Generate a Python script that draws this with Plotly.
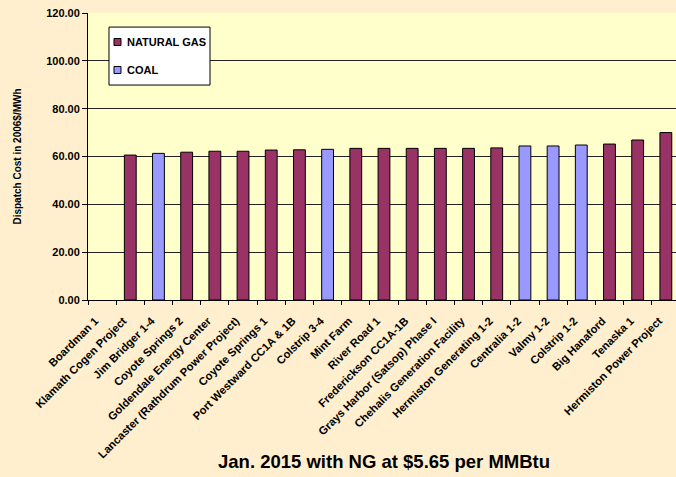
import plotly.graph_objects as go

plants = [
    "Boardman 1", "Klamath Cogen Project", "Jim Bridger 1-4", "Coyote Springs 2",
    "Goldendale Energy Center", "Lancaster (Rathdrum Power Project)", "Coyote Springs 1",
    "Port Westward CC1A & 1B", "Colstrip 3-4", "Mint Farm", "River Road 1",
    "Frederickson CC1A-1B", "Grays Harbor (Satsop) Phase I", "Chehalis Generation Facility",
    "Hermiston Generating 1-2", "Centralia 1-2", "Valmy 1-2", "Colstrip 1-2",
    "Big Hanaford", "Tenaska 1", "Hermiston Power Project",
]
fuel = [
    "COAL", "NATURAL GAS", "COAL", "NATURAL GAS",
    "NATURAL GAS", "NATURAL GAS", "NATURAL GAS",
    "NATURAL GAS", "COAL", "NATURAL GAS", "NATURAL GAS",
    "NATURAL GAS", "NATURAL GAS", "NATURAL GAS",
    "NATURAL GAS", "COAL", "COAL", "COAL",
    "NATURAL GAS", "NATURAL GAS", "NATURAL GAS",
]
dispatch_cost = [
    None, 60.6, 61.3, 61.8,
    62.2, 62.2, 62.7,
    62.8, 63.0, 63.4, 63.4,
    63.4, 63.4, 63.4,
    63.6, 64.4, 64.4, 64.8,
    65.2, 66.9, 70.0,
]
fuel_types = ["NATURAL GAS", "COAL"]
y_ticks = [0, 20, 40, 60, 80, 100, 120]
y_tick_text = ["0.00", "20.00", "40.00", "60.00", "80.00", "100.00", "120.00"]

colors = {"NATURAL GAS": "#993366", "COAL": "#9999FF"}
FONT = "Liberation Sans, Arial, sans-serif"

fig = go.Figure()
for f in fuel_types:
    ys = [v if ft == f else None for v, ft in zip(dispatch_cost, fuel)]
    fig.add_trace(go.Bar(
        x=plants, y=ys, name=f, showlegend=False,
        marker=dict(color=colors[f], line=dict(color="#000000", width=1)),
        width=0.42,
    ))

# Legend box drawn in paper coordinates
shapes = [dict(type="rect", xref="paper", yref="paper",
               x0=0.0357, x1=0.2075, y0=0.749, y1=0.951,
               fillcolor="#FFFFFF", line=dict(color="#000000", width=1), layer="above")]
annotations = []
legend_rows = [(0.899, "NATURAL GAS"), (0.8014, "COAL")]
for yc, f in legend_rows:
    shapes.append(dict(type="rect", xref="paper", yref="paper",
                       x0=0.0442, x1=0.0561, y0=yc - 0.0122, y1=yc + 0.0122,
                       fillcolor=colors[f], line=dict(color="#000000", width=1), layer="above"))
    annotations.append(dict(xref="paper", yref="paper", x=0.0629, y=yc,
                            xanchor="left", yanchor="middle", showarrow=False, text=f,
                            font=dict(family=FONT, size=11, color="#000000", weight="bold")))

annotations.append(dict(xref="paper", yref="paper", x=0.503, y=-0.564,
                        xanchor="center", yanchor="middle", showarrow=False,
                        text="Jan. 2015 with NG at $5.65 per MMBtu",
                        font=dict(family=FONT, size=18.5, color="#000000", weight="bold")))

fig.update_layout(
    width=676, height=477,
    margin=dict(l=88, r=0, t=13, b=177, autoexpand=False),
    paper_bgcolor="#FFEFCE",
    plot_bgcolor="#FFFFCC",
    barmode="overlay",
    font=dict(family=FONT, color="#000000"),
    showlegend=False,
    shapes=shapes,
    annotations=annotations,
    xaxis=dict(
        type="category", categoryorder="array", categoryarray=plants,
        range=[-0.5, 20.36],
        tickangle=-45,
        tickfont=dict(family=FONT, size=11.2, color="#000000", weight="bold"),
        ticks="outside", ticklen=4, tickcolor="#000000", tickson="boundaries",
        ticklabelstandoff=9, ticklabelshift=-7,
        showline=True, linecolor="#000000", linewidth=1,
        showgrid=False, automargin=False,
    ),
    yaxis=dict(
        range=[0, 120],
        tickvals=y_ticks, ticktext=y_tick_text,
        tickfont=dict(family=FONT, size=11, color="#000000", weight="bold"),
        ticks="outside", ticklen=5, tickcolor="#000000",
        showline=True, linecolor="#000000", linewidth=1,
        showgrid=True, gridcolor="#222222", gridwidth=1,
        zeroline=False, automargin=False,
        title=dict(text="Dispatch Cost in 2006$/MWh",
                   font=dict(family=FONT, size=10, color="#000000", weight="bold"),
                   standoff=22),
    ),
)

fig.write_html("out.html", config={"displayModeBar": False},
               post_script="document.body.style.margin='0';")
